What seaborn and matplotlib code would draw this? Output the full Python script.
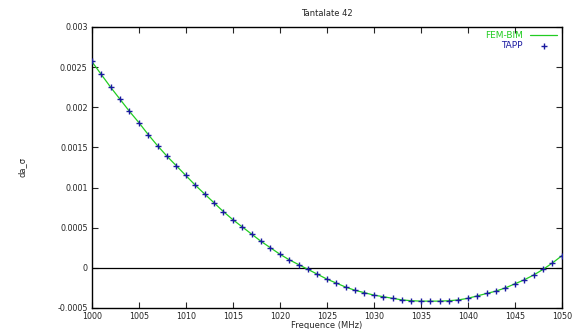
import pandas as pd
import seaborn as sns
import matplotlib.pyplot as plt
import numpy as np

freq = list(range(1000, 1051))
da_sigma = [2.57, 2.41, 2.25, 2.10, 1.95, 1.81, 1.66, 1.52, 1.39, 1.27,
            1.15, 1.03, 0.92, 0.81, 0.70, 0.60, 0.51, 0.42, 0.33, 0.25,
            0.17, 0.10, 0.04, -0.02, -0.08, -0.14, -0.19, -0.24, -0.28, -0.31,
            -0.34, -0.36, -0.38, -0.40, -0.41, -0.415, -0.415, -0.415, -0.41, -0.40,
            -0.38, -0.35, -0.32, -0.29, -0.25, -0.20, -0.15, -0.09, -0.02, 0.06,
            0.15]
da_sigma = [v * 1e-3 for v in da_sigma]
xticks = list(range(1000, 1051, 5))
yticks = [-0.0005, 0, 0.0005, 0.001, 0.0015, 0.002, 0.0025, 0.003]
ytick_labels = ['-0.0005', '0', '0.0005', '0.001', '0.0015', '0.002', '0.0025', '0.003']

df = pd.DataFrame({'freq': freq, 'da': da_sigma})

sns.set_style("white")
plt.rcParams['font.family'] = ['DejaVu Sans']

fig = plt.figure(figsize=(5.81, 3.29), dpi=100)
ax = fig.add_axes([0.158, 0.064, 0.809, 0.854])

ax.axhline(0, color='black', lw=0.9, zorder=1)
sns.lineplot(data=df, x='freq', y='da', ax=ax, color='#22cc22', lw=0.9,
             label='FEM-BIM', zorder=2)
sns.scatterplot(data=df, x='freq', y='da', ax=ax, marker='+', color='#1a1aa0',
                s=20, linewidth=1.0, label='TAPP', zorder=3)

ax.set_xlim(1000, 1050)
ax.set_ylim(-0.0005, 0.003)
ax.set_xticks(xticks)
ax.set_xticklabels([str(t) for t in xticks])
ax.set_yticks(yticks)
ax.set_yticklabels(ytick_labels)
ax.tick_params(direction='in', length=4, width=0.8, labelsize=5.8,
               top=True, right=True, bottom=True, left=True, pad=3)
for s in ax.spines.values():
    s.set_color('black')
    s.set_linewidth(1.0)

ax.set_title('Tantalate 42', fontsize=6, pad=8)
ax.set_xlabel('Frequence (MHz)', fontsize=6, labelpad=0)
ax.set_ylabel('da_σ', fontsize=6, labelpad=22)

leg = ax.legend(loc='upper right', frameon=False, fontsize=6.5, markerfirst=False,
                labelcolor=['#22cc22', '#1a1aa0'], handlelength=3, borderaxespad=0.1,
                labelspacing=0.1, handletextpad=0.8)

fig.savefig('out.png', dpi=100)
